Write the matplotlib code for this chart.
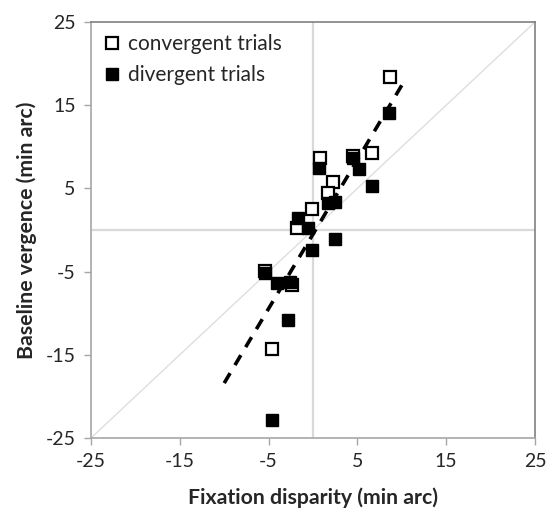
import matplotlib
matplotlib.use("Agg")
import matplotlib.pyplot as plt
import numpy as np

plt.rcParams['font.family'] = ['Lato', 'DejaVu Sans']
plt.rcParams['axes.unicode_minus'] = False

# Convergent trials (open squares)
conv_x = [8.7, 6.6, 0.8, 4.5, 2.2, 1.7, -0.1, -1.8, -2.4, -5.4, -4.6]
conv_y = [18.4, 9.25, 8.65, 8.9, 5.8, 4.4, 2.5, 0.2, -6.6, -4.9, -14.3]

# Divergent trials (filled squares)
div_x = [0.7, 4.5, 5.2, 6.6, 1.7, 2.5, -1.7, -0.55, 2.5, -0.1, -5.4, -4.1, -2.6, -2.8, -4.6, 8.6]
div_y = [7.45, 8.6, 7.3, 5.3, 3.2, 3.4, 1.4, 0.2, -1.1, -2.4, -5.2, -6.4, -6.2, -10.8, -22.8, 14.1]

# Linear trend over all trials
trend_slope = 1.79
trend_intercept = -0.5
trend_range = [-10, 10]

ticks = [-25, -15, -5, 5, 15, 25]

fig = plt.figure(figsize=(5.5, 5.13), dpi=100)
ax = fig.add_axes([91 / 550, 1 - 438 / 513, 444 / 550, 416 / 513])

ax.set_xlim(-25, 25)
ax.set_ylim(-25, 25)

# Reference lines: identity and zero axes
ax.plot([-25, 25], [-25, 25], color='#dedede', lw=1.0, zorder=1)
ax.axhline(0, color='#d9d9d9', lw=1.6, zorder=1)
ax.axvline(0, color='#d9d9d9', lw=1.6, zorder=1)

tx = np.array(trend_range, dtype=float)
ax.plot(tx, trend_slope * tx + trend_intercept, color='black', lw=2.6,
        linestyle=(0, (3.2, 2.6)), zorder=2)

ax.plot(conv_x, conv_y, linestyle='none', marker='s', markersize=8.8,
        markerfacecolor='white', markeredgecolor='black', markeredgewidth=1.6,
        label='convergent trials', zorder=3)
ax.plot(div_x, div_y, linestyle='none', marker='s', markersize=8.8,
        markerfacecolor='black', markeredgecolor='black', markeredgewidth=1.0,
        label='divergent trials', zorder=4)

ax.set_xticks(ticks)
ax.set_yticks(ticks)
ax.tick_params(direction='out', length=5, width=1, color='#a6a6a6',
               labelsize=14, labelcolor='#262626', pad=6)

for side in ['left', 'bottom']:
    ax.spines[side].set_color('#a6a6a6')
    ax.spines[side].set_linewidth(1.2)
for side in ['top', 'right']:
    ax.spines[side].set_color('#808080')
    ax.spines[side].set_linewidth(1.2)

ax.set_xlabel('Fixation disparity (min arc)', fontsize=15.3, fontweight='bold',
              color='#262626', labelpad=12)
ax.set_ylabel('Baseline vergence (min arc)', fontsize=15.3, fontweight='bold',
              color='#262626', labelpad=6)

leg = ax.legend(loc='upper left', frameon=False, fontsize=15,
                handlelength=0.8, handletextpad=0.4, borderaxespad=0.2,
                labelspacing=0.5, markerscale=1.0)
for t in leg.get_texts():
    t.set_color('#262626')

fig.savefig('out.png', dpi=100)
